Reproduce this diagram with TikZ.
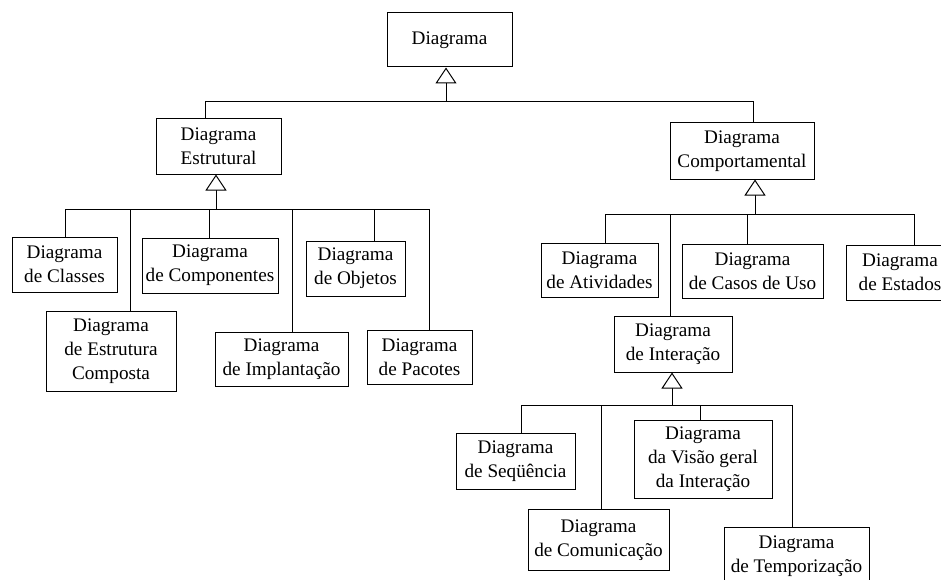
\documentclass[tikz,border=0pt]{standalone}
\usepackage{fontspec}
\setmainfont{Liberation Serif}
\usetikzlibrary{arrows.meta}
\tikzset{
  box/.style={draw, line width=1pt, fill=white, align=center, inner sep=0pt,
    font=\fontsize{19.2}{24}\selectfont},
  conn/.style={line width=1pt},
  gen/.style={line width=1pt, -{Triangle[open, length=16pt, width=21pt, fill=white]}}
}
\begin{document}
\begin{tikzpicture}[x=1pt, y=-1pt]
\useasboundingbox (0,0) rectangle (941,580);
\clip (0,0) rectangle (941,580);
% nodes
\node[box, minimum width=125pt, minimum height=54pt] (root) at (449.5,40) {Diagrama};
\node[box, minimum width=125pt, minimum height=55pt] (estr) at (218.5,146.5) {Diagrama\\Estrutural};
\node[box, minimum width=144pt, minimum height=56pt] (comp) at (742,151) {Diagrama\\Comportamental};
\node[box, minimum width=105pt, minimum height=55pt] (classes) at (64.5,264.5) {Diagrama\\de Classes};
\node[box, minimum width=136pt, minimum height=55pt] (compon) at (210,265.5) {Diagrama\\de Componentes};
\node[box, minimum width=99pt, minimum height=55pt] (objetos) at (355.5,268.5) {Diagrama\\de Objetos};
\node[box, minimum width=130pt, minimum height=80pt] (composta) at (111,351) {Diagrama\\de Estrutura\\Composta};
\node[box, minimum width=133pt, minimum height=54pt] (implant) at (281.5,359) {Diagrama\\de Implantação};
\node[box, minimum width=105pt, minimum height=54pt] (pacotes) at (419.5,357) {Diagrama\\de Pacotes};
\node[box, minimum width=117pt, minimum height=54pt] (ativ) at (599.5,270) {Diagrama\\de Atividades};
\node[box, minimum width=141pt, minimum height=54pt] (casos) at (752.5,271) {Diagrama\\de Casos de Uso};
\node[box, minimum width=108pt, minimum height=55pt] (estados) at (900,272.5) {Diagrama\\de Estados};
\node[box, minimum width=118pt, minimum height=56pt] (inter) at (673,344) {Diagrama\\de Interação};
\node[box, minimum width=119pt, minimum height=56pt] (seq) at (515.5,461) {Diagrama\\de Seqüência};
\node[box, minimum width=138pt, minimum height=78pt] (visao) at (703,459) {Diagrama\\da Visão geral\\da Interação};
\node[box, minimum width=141pt, minimum height=61pt] (comun) at (598.5,540) {Diagrama\\de Comunicação};
\node[box, minimum width=145pt, minimum height=59pt] (tempo) at (796.5,556.5) {Diagrama\\de Temporização};
% bus 1
\coordinate (b1) at (446,102);
\coordinate (j-estr) at (205,102);
\coordinate (j-comp) at (753,102);
\draw[gen] (b1) -- (root.south -| b1);
\draw[conn] (estr.north -| j-estr) |- (b1);
\draw[conn] (comp.north -| j-comp) |- (b1);
% bus 2
\coordinate (b2) at (216,209);
\coordinate (j-classes) at (65,209);
\coordinate (j-composta) at (130.7,209);
\coordinate (j-compon) at (209,209);
\coordinate (j-implant) at (292.3,209);
\coordinate (j-objetos) at (374,209);
\coordinate (j-pacotes) at (429,209);
\draw[gen] (b2) -- (estr.south -| b2);
\draw[conn] (classes.north -| j-classes) |- (b2);
\draw[conn] (composta.north -| j-composta) |- (b2);
\draw[conn] (compon.north -| j-compon) |- (b2);
\draw[conn] (implant.north -| j-implant) |- (b2);
\draw[conn] (objetos.north -| j-objetos) |- (b2);
\draw[conn] (pacotes.north -| j-pacotes) |- (b2);
% bus 3
\coordinate (b3) at (755,214);
\coordinate (j-ativ) at (605,214);
\coordinate (j-inter) at (670.3,214);
\coordinate (j-casos) at (747.7,214);
\coordinate (j-estados) at (914,214);
\draw[gen] (b3) -- (comp.south -| b3);
\draw[conn] (ativ.north -| j-ativ) |- (b3);
\draw[conn] (inter.north -| j-inter) |- (b3);
\draw[conn] (casos.north -| j-casos) |- (b3);
\draw[conn] (estados.north -| j-estados) |- (b3);
% bus 4
\coordinate (b4) at (672,405.7);
\coordinate (j-seq) at (521.7,405.7);
\coordinate (j-comun) at (601.7,405.7);
\coordinate (j-visao) at (700,405.7);
\coordinate (j-tempo) at (792.3,405.7);
\draw[gen] (b4) -- (inter.south -| b4);
\draw[conn] (seq.north -| j-seq) |- (b4);
\draw[conn] (comun.north -| j-comun) |- (b4);
\draw[conn] (visao.north -| j-visao) |- (b4);
\draw[conn] (tempo.north -| j-tempo) |- (b4);
\end{tikzpicture}
\end{document}
